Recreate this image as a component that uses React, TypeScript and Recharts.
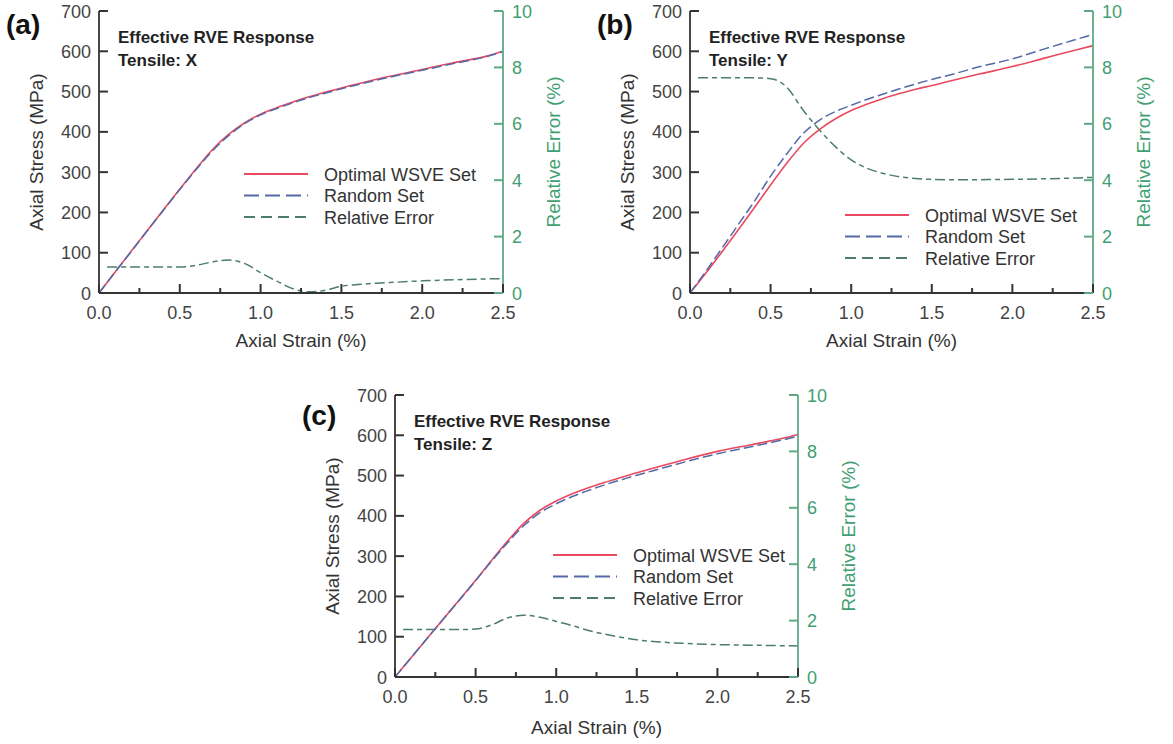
import { LineChart, Line, XAxis, YAxis, Legend, Label } from 'recharts';

const FONT = '"Liberation Sans", Arial, Helvetica, sans-serif';
const AXIS = '#333';
const TXT = '#444';
const GREEN = '#3f9f72';
const GREEN_AXIS = '#5ea886';
const RED = '#e84a5f';
const BLUE = '#5469a8';
const ERR = '#4d7d6c';

// axial strain (%) sample points shared by every curve
const strain = [0, 0.05, 0.1, 0.2, 0.3, 0.4, 0.5, 0.6, 0.7, 0.8, 0.9, 1.0, 1.1, 1.2, 1.3, 1.4, 1.5, 1.6, 1.8, 2.0, 2.2, 2.4, 2.5];

// (a) tensile X
const optimalX = [0, 26, 52, 104, 156, 207, 258, 308, 355, 393, 422, 444, 460, 474, 487, 498, 509, 519, 538, 555, 572, 588, 600];
const randomX = [0, 26, 52, 103, 155, 206, 257, 306, 352, 390, 420, 442, 458, 472, 485, 496, 507, 517, 536, 553, 570, 587, 599];
const errorX = [null, 0.92, 0.92, 0.92, 0.92, 0.92, 0.92, 0.98, 1.1, 1.17, 1.05, 0.72, 0.42, 0.15, 0.04, 0.1, 0.24, 0.3, 0.37, 0.43, 0.47, 0.5, 0.51];

// (b) tensile Y
const optimalY = [0, 25, 50, 103, 157, 212, 268, 322, 370, 405, 432, 453, 469, 483, 495, 506, 515, 525, 544, 562, 583, 604, 614];
const randomY = [0, 27, 55, 112, 170, 228, 290, 345, 395, 428, 450, 466, 481, 494, 507, 519, 530, 540, 562, 581, 606, 630, 642];
const errorY = [null, 7.63, 7.63, 7.63, 7.63, 7.63, 7.6, 7.3, 6.5, 5.8, 5.2, 4.72, 4.42, 4.24, 4.12, 4.06, 4.03, 4.02, 4.02, 4.03, 4.05, 4.08, 4.1];

// (c) tensile Z
const optimalZ = [0, 24, 48, 96, 144, 192, 240, 290, 338, 382, 414, 437, 455, 470, 483, 495, 507, 518, 540, 560, 576, 592, 602];
const randomZ = [0, 24, 48, 96, 144, 191, 239, 288, 334, 376, 408, 430, 448, 463, 477, 489, 501, 512, 534, 554, 571, 588, 598];
const errorZ = [null, 1.68, 1.68, 1.68, 1.68, 1.68, 1.7, 1.85, 2.1, 2.19, 2.12, 1.97, 1.82, 1.65, 1.52, 1.41, 1.32, 1.26, 1.19, 1.15, 1.13, 1.11, 1.1];

const strainTicks = [0, 0.25, 0.5, 0.75, 1, 1.25, 1.5, 1.75, 2, 2.25, 2.5];
const stressTicks = [0, 100, 200, 300, 400, 500, 600, 700];
const errorTicks = [0, 2, 4, 6, 8, 10];
const seriesNames = ['Optimal WSVE Set', 'Random Set', 'Relative Error'];

const MAJOR = 9;
const MINOR = 5;
const isMajor = (v: number) => Math.abs(v * 2 - Math.round(v * 2)) < 1e-6;

// tickSize/tickMargin are 0, so x/y below are the axis point itself; ticks point inward
const BottomTick = ({ x, y, payload }: any) => {
  const major = isMajor(payload.value);
  return (
    <g>
      <line x1={x} x2={x} y1={y} y2={y - (major ? MAJOR : MINOR)} stroke={AXIS} strokeWidth={2} />
      {major && (
        <text x={x} y={y + 26} textAnchor="middle" fontSize={18} fill={TXT} fontFamily={FONT}>
          {payload.value.toFixed(1)}
        </text>
      )}
    </g>
  );
};

const TopTick = ({ x, y, payload }: any) => (
  <line x1={x} x2={x} y1={y} y2={y + (isMajor(payload.value) ? MAJOR : MINOR)} stroke={AXIS} strokeWidth={2} />
);

const LeftTick = ({ x, y, payload }: any) => (
  <g>
    <line x1={x} x2={x + MAJOR} y1={y} y2={y} stroke={AXIS} strokeWidth={2} />
    <text x={x - 8} y={y + 6.5} textAnchor="end" fontSize={18} fill={TXT} fontFamily={FONT}>
      {payload.value}
    </text>
  </g>
);

const RightTick = ({ x, y, payload }: any) => (
  <g>
    <line x1={x} x2={x - MAJOR} y1={y} y2={y} stroke={GREEN_AXIS} strokeWidth={2} />
    <text x={x + 9} y={y + 6.5} textAnchor="start" fontSize={18} fill={GREEN} fontFamily={FONT}>
      {payload.value}
    </text>
  </g>
);

function LegendBox() {
  const styles = [
    { stroke: RED, dash: undefined },
    { stroke: BLUE, dash: '15 6' },
    { stroke: ERR, dash: '11 6' },
  ];
  return (
    <svg width={280} height={66} style={{ display: 'block' }}>
      {seriesNames.map((name, i) => {
        const cy = 11 + i * 21.5;
        return (
          <g key={name}>
            <line x1={0} x2={64} y1={cy} y2={cy} stroke={styles[i].stroke} strokeWidth={2} strokeDasharray={styles[i].dash} />
            <text x={80} y={cy + 6.5} fontSize={18} fill="#333" fontFamily={FONT}>{name}</text>
          </g>
        );
      })}
    </svg>
  );
}

type PanelProps = {
  left: number;
  top: number;
  yWidth: number;
  letter: string;
  letterTop: number;
  axisName: string;
  optimal: number[];
  random: number[];
  error: (number | null)[];
  legendLeft: number;
  legendTop: number;
  xLabelDy: number;
};

function Panel(p: PanelProps) {
  const rows = strain.map((s, i) => ({ strain: s, opt: p.optimal[i], rnd: p.random[i], err: p.error[i] }));
  const plotLeft = p.left + p.yWidth;
  const plotTop = p.top + 11;
  const dark = { stroke: AXIS, strokeWidth: 1.8 };
  return (
    <>
      <div style={{ position: 'absolute', left: p.left, top: p.top }}>
        <LineChart width={583} height={360} data={rows} margin={{ top: 11, right: 0, left: 0, bottom: 0 }}>
          <XAxis
            xAxisId="b" type="number" dataKey="strain" domain={[0, 2.5]} ticks={strainTicks} interval={0}
            tick={BottomTick} tickLine={false} tickSize={0} tickMargin={0} height={67}
            axisLine={dark}
          >
            <Label content={({ viewBox }: any) => (
              <text x={viewBox.x + viewBox.width / 2} y={viewBox.y + p.xLabelDy} textAnchor="middle" fontSize={19} fill="#333" fontFamily={FONT}>
                Axial Strain (%)
              </text>
            )} />
          </XAxis>
          <XAxis
            xAxisId="t" orientation="top" type="number" dataKey="strain" domain={[0, 2.5]} ticks={strainTicks} interval={0}
            tick={TopTick} tickLine={false} tickSize={0} tickMargin={0} height={0}
            axisLine={dark}
          />
          <YAxis
            yAxisId="s" domain={[0, 700]} ticks={stressTicks} interval={0} width={p.yWidth}
            tick={LeftTick} tickLine={false} tickSize={0} tickMargin={0}
            axisLine={dark}
          >
            <Label content={({ viewBox }: any) => {
              const cx = viewBox.x + viewBox.width - 63;
              const cy = viewBox.y + viewBox.height / 2;
              return (
                <text x={cx} y={cy} transform={`rotate(-90 ${cx} ${cy})`} textAnchor="middle" dominantBaseline="central" fontSize={19} fill="#333" fontFamily={FONT}>
                  Axial Stress (MPa)
                </text>
              );
            }} />
          </YAxis>
          <YAxis
            yAxisId="e" orientation="right" domain={[0, 10]} ticks={errorTicks} interval={0} width={80}
            tick={RightTick} tickLine={false} tickSize={0} tickMargin={0}
            axisLine={{ stroke: GREEN_AXIS, strokeWidth: 1.8 }}
          >
            <Label content={({ viewBox }: any) => {
              const cx = viewBox.x + 50;
              const cy = viewBox.y + viewBox.height / 2;
              return (
                <text x={cx} y={cy} transform={`rotate(-90 ${cx} ${cy})`} textAnchor="middle" dominantBaseline="central" fontSize={19} fill={GREEN} fontFamily={FONT}>
                  Relative Error (%)
                </text>
              );
            }} />
          </YAxis>
          <Legend
            layout="vertical" align="center" verticalAlign="middle"
            content={() => <LegendBox />}
            wrapperStyle={{ left: p.legendLeft, top: p.legendTop, width: 280, height: 66 }}
          />
          <Line xAxisId="b" yAxisId="e" dataKey="err" type="monotone" stroke={ERR} strokeWidth={1.5} strokeDasharray="10 4 5 4" dot={false} connectNulls isAnimationActive={false} />
          <Line xAxisId="b" yAxisId="s" dataKey="opt" type="monotone" stroke={RED} strokeWidth={1.6} dot={false} isAnimationActive={false} />
          <Line xAxisId="b" yAxisId="s" dataKey="rnd" type="monotone" stroke={BLUE} strokeWidth={1.5} strokeDasharray="10 4" dot={false} isAnimationActive={false} />
        </LineChart>
      </div>
      <div style={{ position: 'absolute', left: plotLeft - 93, top: p.letterTop, fontSize: 28, fontWeight: 700, lineHeight: '30px', color: '#111' }}>
        {p.letter}
      </div>
      <div style={{ position: 'absolute', left: plotLeft + 19, top: plotTop + 15, fontSize: 17, fontWeight: 700, lineHeight: '23px', color: '#222', whiteSpace: 'nowrap' }}>
        <div>Effective RVE Response</div>
        <div>{p.axisName}</div>
      </div>
    </>
  );
}

export default function App() {
  return (
    <div style={{ position: 'relative', width: 1173, height: 744, background: '#fff', fontFamily: FONT, overflow: 'hidden' }}>
      <style>{'body{margin:0}'}</style>
      <Panel left={0} top={0} yWidth={99} letter="(a)" letterTop={10} axisName="Tensile: X"
        optimal={optimalX} random={randomX} error={errorX} legendLeft={244} legendTop={163} xLabelDy={54} />
      <Panel left={590} top={0} yWidth={100} letter="(b)" letterTop={10} axisName="Tensile: Y"
        optimal={optimalY} random={randomY} error={errorY} legendLeft={255} legendTop={204} xLabelDy={54} />
      <Panel left={295} top={384} yWidth={100} letter="(c)" letterTop={401} axisName="Tensile: Z"
        optimal={optimalZ} random={randomZ} error={errorZ} legendLeft={258} legendTop={160} xLabelDy={57} />
    </div>
  );
}
